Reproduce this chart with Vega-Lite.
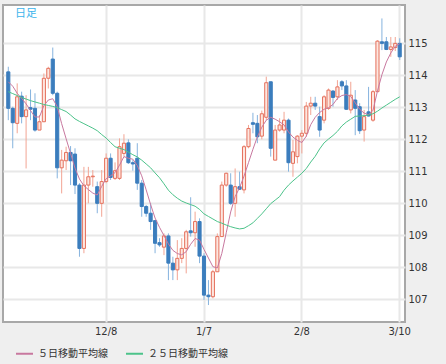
{
  "$schema": "https://vega.github.io/schema/vega-lite/v6.json",
  "width": 402,
  "height": 317,
  "autosize": {"type": "none"},
  "padding": {"left": 3, "top": 5, "right": 41, "bottom": 42},
  "background": "#efefef",
  "title": {"text": "日足", "anchor": "start", "frame": "group", "orient": "top", "offset": -14, "dx": 12, "fontSize": 11, "fontWeight": "normal", "font": "Noto Sans CJK JP", "color": "#3cb4ec", "baseline": "top"},
  "config": {
    "view": {"fill": "white", "stroke": "#a8a8a8", "strokeWidth": 2},
    "scale": {"bandPaddingInner": 0.3, "bandPaddingOuter": 0.84},
    "axis": {"labelOverlap": false, "labelFont": "DejaVu Sans", "labelFontSize": 10, "labelColor": "#333333", "domain": false, "ticks": false, "grid": true, "gridColor": "#e8e8e8", "gridWidth": 2, "title": null},
    "axisY": {"labelOverlap": false, "labelBound": false}
  },
  "data": {"values": [
    {"d":"11/6","o":114.11,"h":114.27,"l":112.6,"c":112.97,"m5":113.80,"m25":113.49},
    {"d":"11/9","o":112.97,"h":113.02,"l":111.72,"c":112.52,"m5":113.66,"m25":113.43},
    {"d":"11/10","o":112.5,"h":113.75,"l":112.19,"c":113.33,"m5":113.44,"m25":113.37},
    {"d":"11/11","o":113.35,"h":113.49,"l":112.5,"c":112.71,"m5":113.28,"m25":113.31},
    {"d":"11/12","o":112.71,"h":113.38,"l":111.09,"c":112.92,"m5":113.11,"m25":113.26},
    {"d":"11/13","o":112.99,"h":113.56,"l":112.6,"c":112.94,"m5":112.90,"m25":113.21},
    {"d":"11/16","o":112.97,"h":113.44,"l":112.24,"c":112.29,"m5":112.70,"m25":113.17},
    {"d":"11/17","o":112.29,"h":112.76,"l":112.29,"c":112.55,"m5":112.70,"m25":113.13},
    {"d":"11/18","o":112.55,"h":114.06,"l":112.55,"c":113.91,"m5":113.05,"m25":113.09},
    {"d":"11/19","o":113.91,"h":114.27,"l":113.59,"c":114.22,"m5":113.23,"m25":113.06},
    {"d":"11/20","o":114.51,"h":114.87,"l":113.38,"c":113.44,"m5":113.27,"m25":113.03},
    {"d":"11/23","o":113.44,"h":113.49,"l":110.78,"c":111.11,"m5":113.02,"m25":112.99},
    {"d":"11/24","o":111.11,"h":111.67,"l":110.31,"c":111.35,"m5":112.49,"m25":112.93},
    {"d":"11/25","o":111.33,"h":111.77,"l":111.04,"c":111.59,"m5":112.02,"m25":112.87},
    {"d":"11/26","o":111.59,"h":111.79,"l":110.57,"c":111.33,"m5":111.56,"m25":112.76},
    {"d":"11/27","o":111.54,"h":111.72,"l":110.29,"c":110.57,"m5":111.10,"m25":112.64},
    {"d":"11/30","o":110.57,"h":110.63,"l":108.33,"c":108.59,"m5":110.76,"m25":112.56},
    {"d":"12/1","o":108.59,"h":111.14,"l":108.44,"c":110.57,"m5":110.55,"m25":112.49},
    {"d":"12/2","o":110.57,"h":111.14,"l":110.0,"c":110.83,"m5":110.43,"m25":112.42},
    {"d":"12/3","o":110.83,"h":111.04,"l":110.52,"c":110.85,"m5":110.32,"m25":112.35},
    {"d":"12/4","o":110.52,"h":110.68,"l":109.69,"c":110.0,"m5":110.26,"m25":112.27},
    {"d":"12/7","o":110.0,"h":111.04,"l":109.58,"c":110.68,"m5":110.53,"m25":112.15},
    {"d":"12/8","o":110.68,"h":111.56,"l":110.63,"c":111.41,"m5":110.77,"m25":112.04},
    {"d":"12/9","o":111.41,"h":111.56,"l":110.73,"c":110.81,"m5":110.86,"m25":111.90},
    {"d":"12/10","o":110.78,"h":111.28,"l":110.73,"c":111.02,"m5":110.96,"m25":111.77},
    {"d":"12/11","o":110.78,"h":112.03,"l":110.73,"c":111.77,"m5":111.19,"m25":111.72},
    {"d":"12/14","o":111.56,"h":112.16,"l":111.46,"c":111.88,"m5":111.46,"m25":111.68},
    {"d":"12/15","o":111.89,"h":112.0,"l":111.23,"c":111.27,"m5":111.41,"m25":111.60},
    {"d":"12/16","o":111.27,"h":111.35,"l":111.02,"c":111.23,"m5":111.38,"m25":111.52},
    {"d":"12/17","o":111.41,"h":111.88,"l":110.42,"c":110.63,"m5":111.18,"m25":111.45},
    {"d":"12/18","o":110.63,"h":110.73,"l":109.58,"c":109.9,"m5":110.86,"m25":111.35},
    {"d":"12/21","o":109.9,"h":109.95,"l":109.58,"c":109.69,"m5":110.42,"m25":111.23},
    {"d":"12/22","o":109.69,"h":110.0,"l":109.17,"c":109.43,"m5":109.96,"m25":111.11},
    {"d":"12/23","o":109.46,"h":109.48,"l":108.44,"c":108.75,"m5":109.54,"m25":110.95},
    {"d":"12/24","o":108.77,"h":108.91,"l":108.64,"c":108.7,"m5":109.25,"m25":110.80},
    {"d":"12/25","o":108.63,"h":109.06,"l":108.38,"c":108.98,"m5":108.99,"m25":110.61},
    {"d":"12/28","o":108.98,"h":109.06,"l":107.6,"c":108.13,"m5":108.73,"m25":110.41},
    {"d":"12/29","o":108.13,"h":108.33,"l":107.6,"c":107.92,"m5":108.53,"m25":110.27},
    {"d":"12/30","o":107.92,"h":108.85,"l":107.6,"c":108.28,"m5":108.43,"m25":110.16},
    {"d":"12/31","o":108.28,"h":108.91,"l":108.13,"c":108.59,"m5":108.39,"m25":110.07},
    {"d":"1/1","o":108.59,"h":109.17,"l":107.81,"c":109.11,"m5":108.49,"m25":110.01},
    {"d":"1/4","o":109.14,"h":110.19,"l":108.96,"c":109.08,"m5":108.72,"m25":109.96},
    {"d":"1/5","o":109.08,"h":109.74,"l":108.64,"c":109.43,"m5":108.90,"m25":109.91},
    {"d":"1/6","o":109.43,"h":109.53,"l":108.13,"c":108.35,"m5":108.85,"m25":109.81},
    {"d":"1/7","o":108.35,"h":108.44,"l":106.98,"c":107.13,"m5":108.56,"m25":109.67},
    {"d":"1/8","o":107.13,"h":107.6,"l":106.82,"c":107.08,"m5":108.29,"m25":109.59},
    {"d":"1/11","o":107.08,"h":107.92,"l":107.03,"c":107.86,"m5":108.02,"m25":109.51},
    {"d":"1/12","o":107.86,"h":109.06,"l":107.86,"c":108.96,"m5":107.98,"m25":109.43},
    {"d":"1/13","o":108.96,"h":110.68,"l":108.96,"c":110.57,"m5":108.43,"m25":109.38},
    {"d":"1/14","o":110.57,"h":110.96,"l":110.52,"c":110.94,"m5":109.08,"m25":109.32},
    {"d":"1/15","o":110.57,"h":110.94,"l":109.95,"c":110.0,"m5":109.73,"m25":109.27},
    {"d":"1/18","o":110.0,"h":111.09,"l":109.58,"c":110.52,"m5":110.21,"m25":109.23},
    {"d":"1/19","o":110.52,"h":110.99,"l":110.42,"c":110.44,"m5":110.49,"m25":109.20},
    {"d":"1/20","o":110.42,"h":111.82,"l":110.31,"c":111.77,"m5":110.85,"m25":109.22},
    {"d":"1/21","o":111.77,"h":112.45,"l":111.72,"c":112.34,"m5":111.27,"m25":109.30},
    {"d":"1/22","o":112.52,"h":112.83,"l":112.19,"c":112.47,"m5":111.69,"m25":109.39},
    {"d":"1/25","o":112.5,"h":112.76,"l":111.88,"c":112.08,"m5":112.08,"m25":109.53},
    {"d":"1/26","o":112.1,"h":112.9,"l":112.0,"c":112.8,"m5":112.38,"m25":109.67},
    {"d":"1/27","o":112.69,"h":113.96,"l":112.6,"c":113.77,"m5":112.60,"m25":109.83},
    {"d":"1/28","o":113.8,"h":113.8,"l":111.46,"c":111.72,"m5":112.69,"m25":109.99},
    {"d":"1/29","o":111.35,"h":112.45,"l":111.35,"c":112.29,"m5":112.63,"m25":110.10},
    {"d":"2/1","o":112.29,"h":112.66,"l":112.24,"c":112.45,"m5":112.55,"m25":110.21},
    {"d":"2/2","o":112.29,"h":112.86,"l":112.19,"c":112.6,"m5":112.45,"m25":110.41},
    {"d":"2/3","o":112.6,"h":112.65,"l":110.99,"c":111.27,"m5":112.23,"m25":110.57},
    {"d":"2/4","o":111.25,"h":111.98,"l":110.83,"c":111.61,"m5":112.07,"m25":110.70},
    {"d":"2/5","o":111.46,"h":112.13,"l":111.25,"c":112.1,"m5":111.97,"m25":110.82},
    {"d":"2/8","o":112.1,"h":112.29,"l":111.56,"c":112.19,"m5":111.90,"m25":110.94},
    {"d":"2/9","o":112.19,"h":113.17,"l":112.08,"c":113.04,"m5":112.10,"m25":111.09},
    {"d":"2/10","o":113.04,"h":113.33,"l":112.76,"c":113.13,"m5":112.46,"m25":111.29},
    {"d":"2/11","o":113.13,"h":113.33,"l":112.92,"c":113.04,"m5":112.69,"m25":111.47},
    {"d":"2/12","o":112.71,"h":113.02,"l":112.08,"c":112.29,"m5":112.84,"m25":111.70},
    {"d":"2/15","o":112.6,"h":113.38,"l":112.5,"c":113.33,"m5":112.94,"m25":111.89},
    {"d":"2/16","o":112.97,"h":113.59,"l":112.92,"c":113.54,"m5":112.99,"m25":112.01},
    {"d":"2/17","o":113.51,"h":113.54,"l":113.02,"c":113.31,"m5":113.09,"m25":112.12},
    {"d":"2/18","o":113.33,"h":113.85,"l":113.23,"c":113.64,"m5":113.28,"m25":112.25},
    {"d":"2/19","o":113.8,"h":113.85,"l":113.54,"c":113.67,"m5":113.37,"m25":112.42},
    {"d":"2/22","o":113.67,"h":113.85,"l":112.92,"c":112.94,"m5":113.40,"m25":112.54},
    {"d":"2/23","o":112.92,"h":113.8,"l":112.81,"c":113.38,"m5":113.34,"m25":112.63},
    {"d":"2/24","o":113.23,"h":113.54,"l":112.13,"c":112.97,"m5":113.14,"m25":112.72},
    {"d":"2/25","o":113.02,"h":113.13,"l":112.17,"c":112.27,"m5":112.94,"m25":112.73},
    {"d":"2/26","o":112.29,"h":112.92,"l":111.93,"c":112.71,"m5":112.82,"m25":112.74},
    {"d":"3/1","o":112.86,"h":113.64,"l":112.71,"c":112.73,"m5":112.77,"m25":112.76},
    {"d":"3/2","o":112.6,"h":113.54,"l":112.55,"c":113.49,"m5":112.91,"m25":112.80},
    {"d":"3/3","o":113.49,"h":115.1,"l":113.49,"c":115.07,"m5":113.51,"m25":112.88},
    {"d":"3/4","o":115.05,"h":115.78,"l":114.79,"c":115.0,"m5":114.02,"m25":112.98},
    {"d":"3/5","o":115.05,"h":115.2,"l":114.79,"c":114.81,"m5":114.42,"m25":113.07},
    {"d":"3/8","o":114.81,"h":115.2,"l":114.58,"c":114.89,"m5":114.70,"m25":113.16},
    {"d":"3/9","o":114.87,"h":115.2,"l":114.76,"c":115.0,"m5":114.91,"m25":113.25},
    {"d":"3/10","o":115.0,"h":115.16,"l":114.48,"c":114.58,"m5":114.99,"m25":113.33}
  ]},
  "encoding": {
    "x": {"field": "d", "type": "ordinal", "sort": null, "title": null,
      "axis": {"values": ["12/8","1/7","2/8","3/10"], "labelAngle": 0, "labelPadding": 4}}
  },
  "layer": [
    {
      "mark": {"type": "rule", "strokeWidth": 1, "clip": true},
      "encoding": {
        "y": {"field": "l", "type": "quantitative", "scale": {"domain": [106.29, 116.2], "nice": false, "zero": false}, "title": null,
          "axis": {"orient": "right", "values": [107,108,109,110,111,112,113,114,115], "labelPadding": 3, "labelOverlap": false}},
        "y2": {"field": "h"},
        "color": {"condition": {"test": "datum.c >= datum.o", "value": "#f2a493"}, "value": "#86b3de"}
      }
    },
    {
      "mark": {"type": "bar", "strokeWidth": 1, "clip": true},
      "encoding": {
        "y": {"field": "o", "type": "quantitative", "axis": {"orient": "right", "values": [107,108,109,110,111,112,113,114,115], "labelPadding": 3, "labelOverlap": false}},
        "y2": {"field": "c"},
        "fill": {"condition": {"test": "datum.c >= datum.o", "value": "#fde6df"}, "value": "#3b7dbd"},
        "stroke": {"condition": {"test": "datum.c >= datum.o", "value": "#e5705c"}, "value": "#3b7dbd"}
      }
    },
    {
      "transform": [{"fold": ["m5", "m25"], "as": ["s", "v"]}],
      "mark": {"type": "line", "strokeWidth": 1, "clip": true},
      "encoding": {
        "y": {"field": "v", "type": "quantitative", "axis": {"orient": "right", "values": [107,108,109,110,111,112,113,114,115], "labelPadding": 3, "labelOverlap": false}},
        "color": {"field": "s", "type": "nominal",
          "scale": {"domain": ["m5", "m25"], "range": ["#c8789f", "#4cc38a"]},
          "legend": {"orient": "none", "legendX": 12, "legendY": 339, "direction": "horizontal", "title": null, "symbolType": "stroke", "symbolSize": 289, "symbolStrokeWidth": 2, "labelFont": "Noto Sans CJK JP", "labelFontSize": 10, "labelColor": "#333333", "columnPadding": 14, "labelOffset": 4,
            "labelExpr": "datum.value == 'm5' ? '５日移動平均線' : '２５日移動平均線'"}}
      }
    }
  ]
}
